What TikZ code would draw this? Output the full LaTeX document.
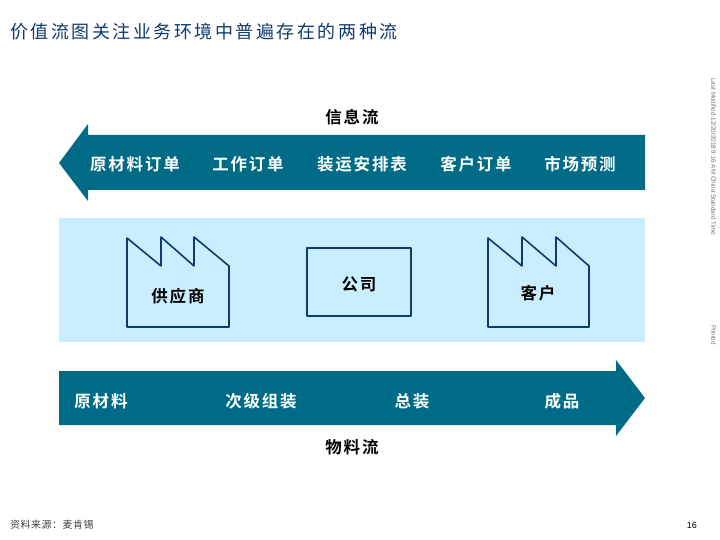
\documentclass[tikz,border=0pt]{standalone}
\usepackage{fontspec}
\setmainfont{Liberation Sans}
\newfontfamily\cjk[LetterSpace=14]{Noto Sans CJK SC}
\newfontfamily\cjkb[LetterSpace=11]{Noto Sans CJK SC Bold}
\newfontfamily\cjks[LetterSpace=5]{Noto Sans CJK SC}
\definecolor{teal1}{HTML}{006B87}
\definecolor{panel}{HTML}{C8EEFF}
\definecolor{navy}{HTML}{0F3A6E}
\tikzset{
 banner/.style={fill=teal1,draw=none},
 bartext/.style={text=white,font=\cjkb\fontsize{16.5}{18}\selectfont,inner sep=0pt,anchor=center},
 head/.style={text=black,font=\cjkb\fontsize{16.5}{18}\selectfont,inner sep=0pt,anchor=center},
 plant/.style={draw=navy,line width=1.6pt,line join=round},
 side/.style={text=black!55,font=\fontsize{6.3}{7}\selectfont,rotate=-90,inner sep=0pt,anchor=center},
}
\begin{document}
\begin{tikzpicture}[x=1pt,y=-1pt]
\useasboundingbox (0,0) rectangle (720,540);
\fill[white] (0,0) rectangle (720,540);
\node[anchor=west,inner sep=0pt,text=navy,font=\cjk\fontsize{18}{20}\selectfont] (title) at (10,32) {价值流图关注业务环境中普遍存在的两种流};
\node[head] (info) at (352,117) {信息流};
\draw[banner] (59,163) -- (88,124) -- (88,135) -- (645,135) -- (645,190) -- (88,190) -- (88,201) -- cycle;
\node[bartext] (o1) at (135,164) {原材料订单};
\node[bartext] (o2) at (248,164) {工作订单};
\node[bartext] (o3) at (362,164) {装运安排表};
\node[bartext] (o4) at (476,164) {客户订单};
\node[bartext] (o5) at (580,164) {市场预测};
\fill[panel] (59,218) rectangle (645,342);
\draw[plant] (127,327) -- (127,238) -- (161,266) -- (161,237) -- (194,266) -- (194,237) -- (229,266) -- (229,327) -- cycle;
\draw[plant] (488,327) -- (488,238) -- (522,266) -- (522,237) -- (556,266) -- (556,237) -- (589,266) -- (589,327) -- cycle;
\draw[plant] (307,248) rectangle (411,316);
\node[head] (sup) at (178,296) {供应商};
\node[head] (com) at (359,284) {公司};
\node[head] (cus) at (538,293) {客户};
\draw[banner] (59,371) -- (616,371) -- (616,360) -- (645,398) -- (616,436) -- (616,425) -- (59,425) -- cycle;
\node[bartext] (m1) at (101,401) {原材料};
\node[bartext] (m2) at (261,401) {次级组装};
\node[bartext] (m3) at (412,401) {总装};
\node[bartext] (m4) at (562,401) {成品};
\node[head] (mat) at (352,447) {物料流};
\node[side] (mod) at (713.5,157) {Last Modified 12/20/2018 9:16 AM China Standard Time};
\node[side] (pr) at (713.5,335) {Printed};
\node[anchor=east,inner sep=0pt,font=\fontsize{9}{11}\selectfont] (pg) at (697,525) {16};
\node[anchor=west,inner sep=0pt,text=black!75,font=\cjks\fontsize{10}{12}\selectfont] (src) at (10,525) {资料来源：麦肯锡};
\end{tikzpicture}
\end{document}
